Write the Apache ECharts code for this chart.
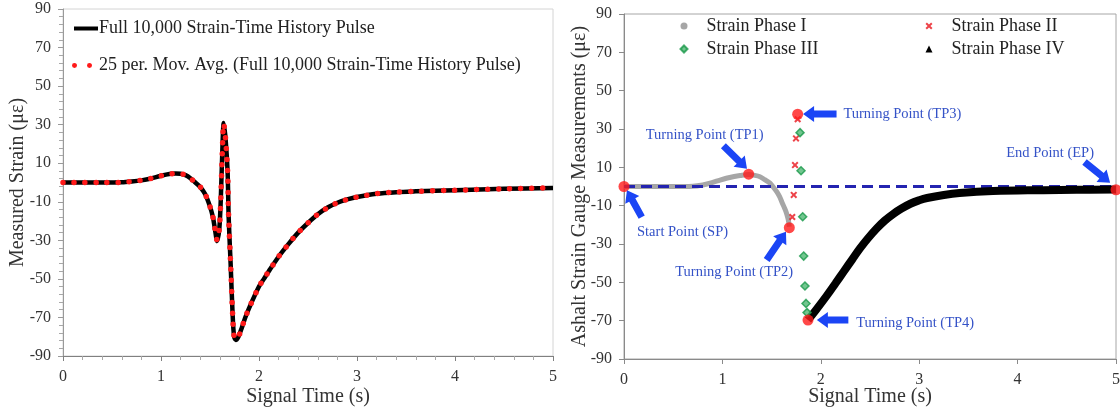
<!DOCTYPE html>
<html><head><meta charset="utf-8">
<script src="https://cdn.jsdelivr.net/npm/echarts@6/dist/echarts.min.js"></script>
<style>html,body{margin:0;padding:0;background:#fff}#chart{width:1120px;height:409px}</style>
</head><body><div id="chart"></div>
<script>
// ---------- Left panel data (signal time in s, strain in micro-strain) ----------
const pulseTime = [0, 0.2, 0.4, 0.6, 0.7, 0.8, 0.9, 1.0, 1.1, 1.15,
  1.2, 1.25, 1.3, 1.35, 1.4, 1.45, 1.5, 1.53, 1.55, 1.573,
  1.595, 1.61, 1.624, 1.64, 1.66, 1.68, 1.69, 1.71, 1.73, 1.745,
  1.763, 1.79, 1.825, 1.86, 1.9, 2.0, 2.05, 2.1, 2.2, 2.3,
  2.4, 2.5, 2.6, 2.7, 2.8, 2.9, 3.0, 3.2, 3.4, 3.6,
  4.0, 4.5, 5.0];
const pulseStrain = [0, 0, 0, 0.1, 0.5, 1.1, 2.1, 3.5, 4.5, 4.7,
  4.5, 3.8, 2.2, 0, -2.3, -6, -12.5, -18, -24, -30.4,
  -24, -9, 13.6, 30.8, 22, 5, -17.4, -41.6, -67.5, -79.6,
  -81.7, -80, -75.3, -70, -65, -54, -50, -46, -38.5, -32,
  -26, -21, -16.5, -13, -10.5, -8.8, -7.5, -5.8, -5, -4.6,
  -4, -3.3, -2.8];
const movAvgStrain = [0, 0, 0, 0.1, 0.5, 1.1, 2.1, 3.5, 4.5, 4.7,
  4.5, 3.8, 2.2, 0, -2.3, -6, -12.5, -18, -24, -30,
  -24, -9, 13.6, 30.5, 22, 5, -17.4, -41.6, -67.5, -79.6,
  -81.2, -80, -75.3, -70, -65, -54, -50, -46, -38.5, -32,
  -26, -21, -16.5, -13, -10.5, -8.8, -7.5, -5.8, -5, -4.6,
  -4, -3.3, -2.8];

// ---------- Right panel data ----------
const phase1Time = [0, 0.2, 0.4, 0.6, 0.7, 0.8, 0.874, 0.95, 1.04, 1.12, 1.18, 1.267, 1.33, 1.382, 1.43, 1.484, 1.52, 1.552, 1.58, 1.603, 1.625, 1.646, 1.66, 1.67, 1.68];
const phase1Strain = [0, 0, 0, 0, 0.1, 0.8, 1.7, 2.9, 4.3, 5.2, 5.7, 6.2, 5.8, 5.1, 3.6, 1.7, -0.5, -2.7, -5.2, -7.9, -10.5, -13.1, -15.5, -17.5, -21];
const phase2Time = [1.71, 1.725, 1.738, 1.748, 1.765];
const phase2Strain = [-15.9, -4.4, 11.2, 25.1, 35.1];
const phase3Time = [1.789, 1.799, 1.816, 1.826, 1.839, 1.85, 1.86];
const phase3Strain = [28.1, 8.2, -15.8, -36.3, -51.9, -61, -65.8];
const phase4Time = [1.87, 1.95, 2.06, 2.15, 2.23, 2.32, 2.40, 2.48, 2.57, 2.65, 2.74, 2.82, 2.91, 3.0, 3.08, 3.25, 3.41, 3.75, 4.26, 4.6, 5.0];
const phase4Strain = [-69.7, -64.5, -57, -50.5, -44.6, -38, -32.2, -27, -21.8, -17.8, -14.2, -11.5, -9.0, -7.2, -6.0, -4.4, -3.4, -2.4, -1.9, -1.7, -1.6];
const keyPointTime = [0, 1.267, 1.68, 1.765, 1.87, 5];
const keyPointStrain = [0, 6.4, -21.5, 37.7, -69.7, -1.7];
const baselineTime = [0, 5];
const baselineStrain = [0, 0];
const annotationLabels = ['Start Point (SP)', 'Turning Point (TP1)', 'Turning Point (TP2)', 'Turning Point (TP3)', 'Turning Point (TP4)', 'End Point (EP)'];
const annotationTime = [0.595, 0.82, 1.12, 2.23, 2.36, 4.33];
const annotationStrain = [-24, 27, -44.9, 37.8, -71.4, 17.4];
const annotationAlign = ['center', 'center', 'center', 'left', 'left', 'center'];
const arrowTailTime = [0.18, 1.01, 1.45, 2.16, 2.28, 4.68];
const arrowTailStrain = [-16, 21.3, -38.3, 37.8, -69.7, 12.8];
const arrowTipTime = [0.03, 1.25, 1.646, 1.82, 1.96, 4.94];
const arrowTipStrain = [-2, 9.2, -23.6, 37.8, -69.7, 2];

// ---------- Axis ranges / tick settings ----------
const timeMin = 0, timeMax = 5, timeStep = 1;
const strainMin = -90, strainMax = 90, strainStep = 20;

const pairs = (xs, ys) => xs.map((x, i) => [x, ys[i]]);
const FONT = "'Liberation Serif', 'DejaVu Serif', serif";
const NAME_PULSE = 'Full 10,000 Strain-Time History Pulse';
const NAME_AVG = '25 per. Mov. Avg. (Full 10,000 Strain-Time History Pulse)';
const XPATH = 'path://M0,2L2,0L5,3L8,0L10,2L7,5L10,8L8,10L5,7L2,10L0,8L3,5Z';

function xAxis(gi, axisColor, minor, gap) {
  return {
    gridIndex: gi, type: 'value', min: timeMin, max: timeMax, interval: timeStep,
    name: 'Signal Time (s)', nameLocation: 'middle', nameGap: gap, nameMoveOverlap: false,
    nameTextStyle: { fontFamily: FONT, fontSize: 20, color: '#333' },
    axisLine: { show: true, onZero: false, lineStyle: { color: axisColor, width: 1 } },
    axisTick: { show: true, length: 5, lineStyle: { color: axisColor } },
    minorTick: { show: minor, splitNumber: 5, length: 4, lineStyle: { color: '#a8a8a8' } },
    axisLabel: { fontFamily: FONT, fontSize: 16, color: '#333', margin: 13 },
    splitLine: { show: false }, minorSplitLine: { show: false }
  };
}
function yAxis(gi, name, gap, axisColor, minor) {
  return {
    gridIndex: gi, type: 'value', min: strainMin, max: strainMax, interval: strainStep,
    name: name, nameLocation: 'middle', nameGap: gap, nameMoveOverlap: false,
    nameTextStyle: { fontFamily: FONT, fontSize: 20, color: '#333' },
    axisLine: { show: true, onZero: false, lineStyle: { color: axisColor, width: 1 } },
    axisTick: { show: true, length: 5, lineStyle: { color: axisColor } },
    minorTick: { show: minor, splitNumber: 5, length: 4, lineStyle: { color: '#a8a8a8' } },
    axisLabel: { fontFamily: FONT, fontSize: 16, color: '#333', margin: 12 },
    splitLine: { show: false }, minorSplitLine: { show: false }
  };
}

const legendText = (padLeft) => ({ fontFamily: FONT, fontSize: 18, color: '#222', lineHeight: 20, padding: [0, 0, 0, padLeft] });

const chart = echarts.init(document.getElementById('chart'), null, { renderer: 'canvas' });
chart.setOption({
  animation: false,
  backgroundColor: '#fff',
  grid: [
    { left: 63, top: 9, right: 567, bottom: 53, containLabel: false, outerBoundsMode: 'none',
      show: true, borderColor: '#d4d4d4', borderWidth: 1, backgroundColor: 'transparent' },
    { left: 624, top: 14, right: 4, bottom: 50, containLabel: false, outerBoundsMode: 'none',
      show: true, borderColor: '#a6a6a6', borderWidth: 1, backgroundColor: 'transparent' }
  ],
  xAxis: [xAxis(0, '#808080', true, 31), xAxis(1, '#8a8a8a', false, 28)],
  yAxis: [
    yAxis(0, 'Measured Strain (\u03bc\u03b5)', 35, '#9a9a9a', true),
    yAxis(1, 'Ashalt Strain Gauge Measurements (\u03bc\u03b5)', 34, '#8a8a8a', false)
  ],
  legend: [
    { data: [{ name: NAME_PULSE, icon: 'rect' }], left: 74, top: 18.5, orient: 'vertical', padding: 0,
      itemWidth: 24, itemHeight: 4, textStyle: legendText(-4), selectedMode: false },
    { data: [{ name: NAME_AVG, icon: 'path://M5,0A2.5,2.5,0,1,1,5,0.01ZM20,0A2.5,2.5,0,1,1,20,0.01Z' }], left: 72, top: 55.5, orient: 'vertical', padding: 0,
      itemWidth: 20, itemHeight: 5, textStyle: legendText(2), selectedMode: false },
    { data: [{ name: 'Strain Phase I', icon: 'circle' }, { name: 'Strain Phase III', icon: 'diamond' }],
      left: 679.5, top: 16, orient: 'vertical', padding: 0, itemGap: 3, itemWidth: 7, itemHeight: 7,
      textStyle: legendText(14), selectedMode: false },
    { data: [{ name: 'Strain Phase II', icon: XPATH }, { name: 'Strain Phase IV', icon: 'triangle' }],
      left: 925.5, top: 16, orient: 'vertical', padding: 0, itemGap: 3, itemWidth: 7, itemHeight: 7,
      textStyle: legendText(14), selectedMode: false }
  ],
  series: [
    { name: NAME_PULSE, type: 'line', xAxisIndex: 0, yAxisIndex: 0, data: pairs(pulseTime, pulseStrain),
      showSymbol: false, symbol: 'none', smooth: 0.3, color: '#000',
      lineStyle: { color: '#000', width: 4.5 }, z: 2 },
    { name: NAME_AVG, type: 'line', xAxisIndex: 0, yAxisIndex: 0, data: pairs(pulseTime, movAvgStrain),
      showSymbol: false, symbol: 'none', smooth: 0.3, color: '#ff1a1a',
      lineStyle: { color: '#ff1a1a', width: 5.5, type: [0, 11], cap: 'round' }, z: 3 },

    { name: 'Strain Phase I', type: 'line', xAxisIndex: 1, yAxisIndex: 1, data: pairs(phase1Time, phase1Strain),
      showSymbol: false, symbol: 'none', smooth: 0.3, color: '#a6a6a6', itemStyle: { color: '#a6a6a6' },
      lineStyle: { color: '#a6a6a6', width: 5 }, z: 2 },
    { name: 'baseline', type: 'line', xAxisIndex: 1, yAxisIndex: 1, data: pairs(baselineTime, baselineStrain),
      showSymbol: false, symbol: 'none', lineStyle: { color: '#2424b0', width: 3, type: [11, 6] }, z: 3, silent: true },
    { name: 'Strain Phase II', type: 'scatter', xAxisIndex: 1, yAxisIndex: 1, data: pairs(phase2Time, phase2Strain),
      symbol: XPATH, symbolSize: 7, itemStyle: { color: '#e8141c' }, z: 4 },
    { name: 'Strain Phase III', type: 'scatter', xAxisIndex: 1, yAxisIndex: 1, data: pairs(phase3Time, phase3Strain),
      symbol: 'diamond', symbolSize: 8, itemStyle: { color: '#4fb873', borderColor: '#19984a', borderWidth: 1.5 }, z: 4 },
    { name: 'Strain Phase IV', type: 'line', xAxisIndex: 1, yAxisIndex: 1, data: pairs(phase4Time, phase4Strain),
      showSymbol: false, symbol: 'none', smooth: 0.4, color: '#000', itemStyle: { color: '#000' },
      lineStyle: { color: '#000', width: 8 }, z: 4 },
    { name: 'key points', type: 'scatter', xAxisIndex: 1, yAxisIndex: 1, data: pairs(keyPointTime, keyPointStrain),
      symbol: 'circle', symbolSize: 11, itemStyle: { color: '#ff1a1a' }, z: 6, clip: false },
    { name: 'arrows', type: 'custom', xAxisIndex: 1, yAxisIndex: 1, z: 7, clip: false,
      data: arrowTailTime.map((t, i) => [t, arrowTailStrain[i], arrowTipTime[i], arrowTipStrain[i]]),
      encode: { x: [0, 2], y: [1, 3] },
      renderItem: function (params, api) {
        const a = api.coord([api.value(0), api.value(1)]);
        const b = api.coord([api.value(2), api.value(3)]);
        const dx = b[0] - a[0], dy = b[1] - a[1];
        const len = Math.sqrt(dx * dx + dy * dy);
        const ux = dx / len, uy = dy / len, nx = -uy, ny = ux;
        const w = 3.5, hw = 8, hl = 11;
        const bx = b[0] - ux * hl, by = b[1] - uy * hl;
        const pts = [
          [a[0] + nx * w, a[1] + ny * w], [bx + nx * w, by + ny * w], [bx + nx * hw, by + ny * hw],
          [b[0], b[1]], [bx - nx * hw, by - ny * hw], [bx - nx * w, by - ny * w], [a[0] - nx * w, a[1] - ny * w]
        ];
        return { type: 'polygon', shape: { points: pts }, style: { fill: '#1b45f5' } };
      }
    },
    { name: 'labels', type: 'custom', xAxisIndex: 1, yAxisIndex: 1, z: 7, clip: false,
      data: pairs(annotationTime, annotationStrain),
      renderItem: function (params, api) {
        const p = api.coord([api.value(0), api.value(1)]);
        return { type: 'text', style: {
          text: annotationLabels[params.dataIndex], x: p[0], y: p[1],
          align: annotationAlign[params.dataIndex], verticalAlign: 'middle',
          fontFamily: FONT, fontSize: 14.5, fill: '#3452c7' } };
      }
    }
  ]
});
</script>
</body></html>
